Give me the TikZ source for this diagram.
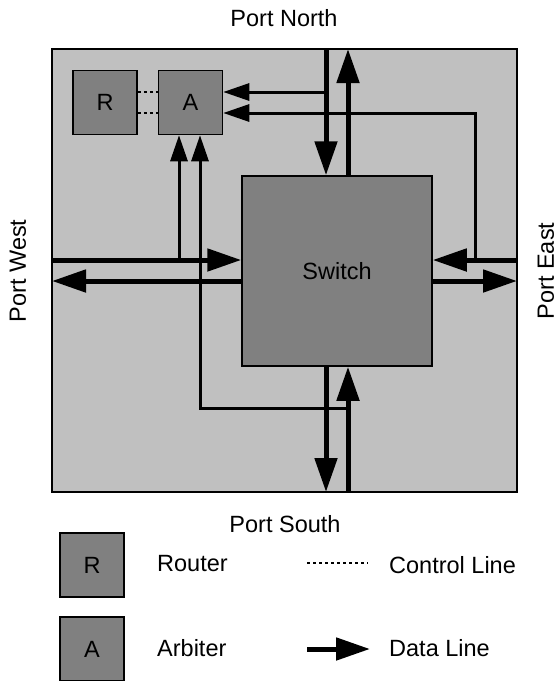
\documentclass[tikz,border=0pt]{standalone}
\usepackage{fontspec}
\setmainfont{Liberation Sans}
\usetikzlibrary{arrows.meta,positioning}

\definecolor{framegray}{RGB}{192,192,192}
\definecolor{unitgray}{RGB}{128,128,128}

\begin{document}
\begin{tikzpicture}[x=1pt,y=-1pt,
  box/.style={draw=black, line width=1.5pt, fill=unitgray, inner sep=0pt,
    minimum width=64pt, minimum height=64pt, font=\fontsize{23.5}{28}\selectfont},
  data/.style={line width=5pt, -{Triangle[length=34pt,width=22pt]}},
  ctrl/.style={line width=3pt, -{Triangle[length=26pt,width=17pt]}},
  link/.style={line width=2pt, dash pattern=on 3pt off 3pt},
  lbl/.style={font=\fontsize{23.5}{28}\selectfont},
  key/.style={font=\fontsize{23.5}{28}\selectfont, anchor=west, inner sep=0pt}]

\useasboundingbox (0,0) rectangle (558,681);

% -------------------------------------------------
% Cadre du routeur
% -------------------------------------------------
\draw[line width=2pt, fill=framegray] (52,49) rectangle (517,492);

\node[box] (router) at (105,102.5) {R};
\node[box, right=20pt of router] (arbiter) {A};
\node[box, minimum width=190pt, minimum height=190pt] (switch) at (337,271) {Switch};

% -------------------------------------------------
% Ports
% -------------------------------------------------
\node[lbl] (north) at (284,18) {Port North};
\node[lbl] (south) at (285,524) {Port South};
\node[lbl, rotate=90] (west) at (18,271) {Port West};
\node[lbl, rotate=90] (east) at (546,271) {Port East};

\coordinate (nIn) at (326,49);
\coordinate (nOut) at (348,49);
\coordinate (sOut) at (326,492);
\coordinate (sIn) at (348,492);
\coordinate (wIn) at (52,260);
\coordinate (wOut) at (52,281);
\coordinate (eIn) at (517,260);
\coordinate (eOut) at (517,281);

% -------------------------------------------------
% Lignes de donnees
% -------------------------------------------------
\draw[data] (nIn) -- (nIn |- switch.north);
\draw[data] (nOut |- switch.north) -- (nOut);
\draw[data] (wIn) -- (wIn -| switch.west);
\draw[data] (wOut -| switch.west) -- (wOut);
\draw[data] (eIn) -- (eIn -| switch.east);
\draw[data] (eOut -| switch.east) -- (eOut);
\draw[data] (sOut |- switch.south) -- (sOut);
\draw[data] (sIn) -- (sIn |- switch.south);

% -------------------------------------------------
% Lignes de controle
% -------------------------------------------------
\coordinate (tapN) at (326,92);
\coordinate (tapE) at (475,260);
\coordinate (bendE) at (475,113);
\coordinate (tapW) at (179,260);
\coordinate (tapS) at (348,408);
\coordinate (bendS) at (200,408);

\draw[ctrl] (tapN) -- (tapN -| arbiter.east);
\draw[ctrl] (tapE) -- (bendE) -- (bendE -| arbiter.east);
\draw[ctrl] (tapW) -- (tapW |- arbiter.south);
\draw[ctrl] (tapS) -- (bendS) -- (bendS |- arbiter.south);

\draw[link] (tapN -| router.east) -- (tapN -| arbiter.west);
\draw[link] (bendE -| router.east) -- (bendE -| arbiter.west);

% -------------------------------------------------
% Legende
% -------------------------------------------------
\node[box] (keyR) at (92,565) {R};
\node[box] (keyA) at (92,649) {A};
\node[key] (keyRouter) at (157,564) {Router};
\node[key] (keyArbiter) at (157,648.5) {Arbiter};

\coordinate (ctrlFrom) at (307,563);
\coordinate (ctrlTo) at (368,563);
\coordinate (dataFrom) at (307,649);
\coordinate (dataTo) at (370,649);
\draw[link] (ctrlFrom) -- (ctrlTo);
\draw[data] (dataFrom) -- (dataTo);
\node[key] (keyCtrl) at (389,565) {Control Line};
\node[key] (keyData) at (389,648) {Data Line};

\end{tikzpicture}
\end{document}
